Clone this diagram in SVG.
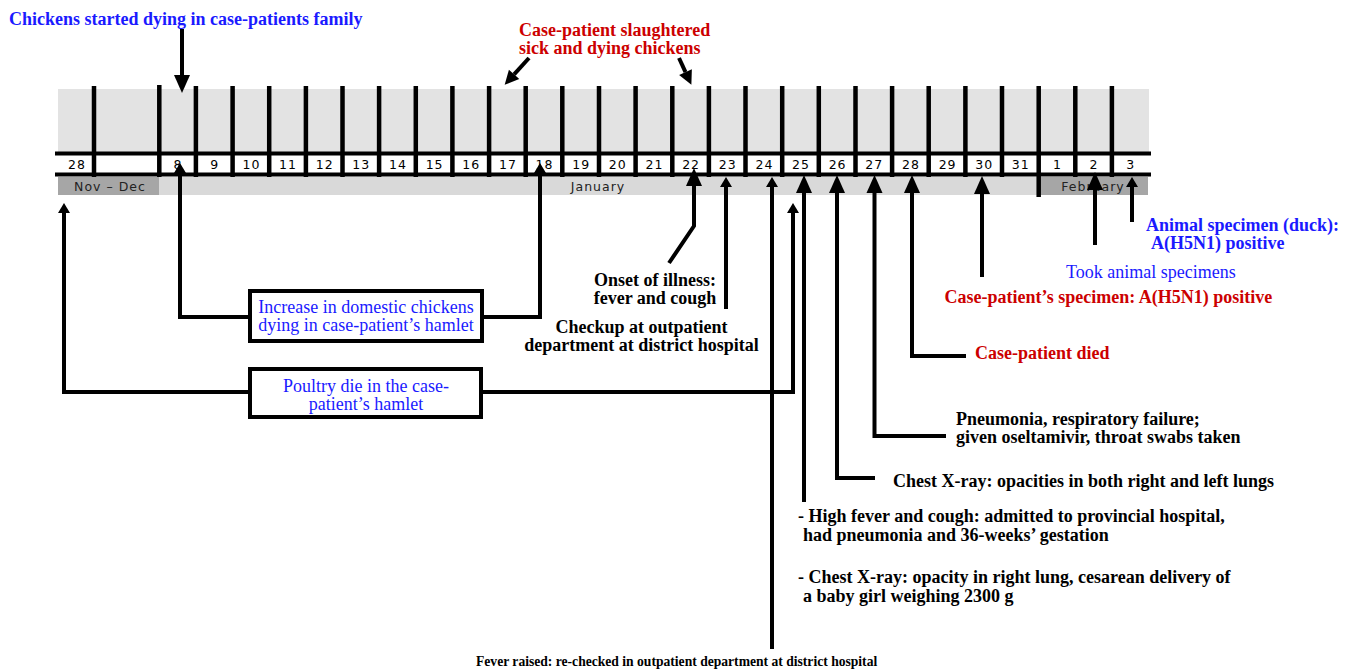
<svg xmlns="http://www.w3.org/2000/svg" width="1353" height="669" viewBox="0 0 1353 669">
<style>
.t{font-family:"Liberation Serif","Times New Roman",serif;font-size:18px}
.b{font-weight:bold}
.blue{fill:#1a1aff}
.red{fill:#cc0000}
.blk{fill:#000}
.d{font-family:"DejaVu Sans",Verdana,sans-serif;font-size:12.5px;letter-spacing:1px;text-anchor:middle;fill:#000}
.m{font-family:"DejaVu Sans",Verdana,sans-serif;font-size:12.5px;letter-spacing:1px;text-anchor:middle;fill:#222}
.c{fill:none;stroke:#000;stroke-width:4;stroke-linejoin:miter}
.box{fill:#fff;stroke:#000;stroke-width:4}
.mid{text-anchor:middle}
</style>
<defs>
<marker id="big" markerUnits="userSpaceOnUse" markerWidth="18" markerHeight="16" refX="0" refY="8" orient="auto" overflow="visible"><path d="M0,0 L18,8 L0,16 Z" fill="#000"/></marker>
<marker id="mid" markerUnits="userSpaceOnUse" markerWidth="14" markerHeight="14" refX="0" refY="7" orient="auto" overflow="visible"><path d="M0,0 L14,7 L0,14 Z" fill="#000"/></marker>
<marker id="sm" markerUnits="userSpaceOnUse" markerWidth="10" markerHeight="12" refX="0" refY="6" orient="auto" overflow="visible"><path d="M0,0 L10,6 L0,12 Z" fill="#000"/></marker>
</defs>

<g id="timeline">
<rect x="58" y="89" width="1091" height="63" fill="#e3e3e3"/>
<rect x="58" y="177" width="1090" height="18" fill="#d9d9d9"/>
<rect x="58" y="177" width="101" height="18" fill="#a6a6a6"/>
<rect x="1039" y="177" width="109" height="18" fill="#a6a6a6"/>
<path d="M55,153.5 H1151 M55,174.5 H1151" stroke="#000" stroke-width="4" fill="none"/>
<path stroke="#000" stroke-width="4.5" fill="none" d="M94,86 V177 M159.3,85 V177 M195.9,86 V177 M232.6,86 V177 M269.2,86 V177 M305.9,86 V177 M342.5,86 V177 M379.1,86 V177 M415.8,86 V177 M452.4,86 V177 M489.1,86 V177 M525.7,86 V177 M562.3,86 V177 M599,86 V177 M635.6,86 V177 M672.3,86 V177 M708.9,86 V177 M745.5,86 V177 M782.2,86 V177 M818.8,86 V177 M855.5,86 V177 M892.1,86 V177 M928.7,86 V177 M965.4,86 V177 M1002,86 V177 M1038.7,86 V197 M1075.3,86 V177 M1111.9,86 V177"/>
<g class="d">
<text x="77" y="169">28</text>
<text x="178" y="169">8</text>
<text x="214.8" y="169">9</text>
<text x="251.4" y="169">10</text>
<text x="288" y="169">11</text>
<text x="324.7" y="169">12</text>
<text x="361.3" y="169">13</text>
<text x="398" y="169">14</text>
<text x="434.6" y="169">15</text>
<text x="471.2" y="169">16</text>
<text x="507.9" y="169">17</text>
<text x="544.5" y="169">18</text>
<text x="581.2" y="169">19</text>
<text x="617.8" y="169">20</text>
<text x="654.4" y="169">21</text>
<text x="691.1" y="169">22</text>
<text x="727.7" y="169">23</text>
<text x="764.4" y="169">24</text>
<text x="801" y="169">25</text>
<text x="837.6" y="169">26</text>
<text x="874.3" y="169">27</text>
<text x="910.9" y="169">28</text>
<text x="947.6" y="169">29</text>
<text x="984.2" y="169">30</text>
<text x="1020.8" y="169">31</text>
<text x="1057.5" y="169">1</text>
<text x="1094.1" y="169">2</text>
<text x="1130.8" y="169">3</text>
</g>
<g class="m">
<text x="110" y="190.5">Nov – Dec</text>
<text x="598" y="190.5">January</text>
<text x="1093" y="190.5">February</text>
</g>
</g>

<g id="connectors">
<path class="c" d="M182,29 V75" marker-end="url(#big)"/>
<path class="c" d="M529,58 L514.1,74.4" marker-end="url(#mid)"/>
<path class="c" d="M679,58 L685.5,72.1" marker-end="url(#mid)"/>
<path class="c" d="M248,317 H180 V173" marker-end="url(#sm)"/>
<path class="c" d="M484,317 H540 V173" marker-end="url(#sm)"/>
<path class="c" d="M248,392 H64 V213" marker-end="url(#sm)"/>
<path class="c" d="M483,392 H793 V213" marker-end="url(#sm)"/>
<path class="c" d="M669,263 L694,226 V186" marker-end="url(#big)"/>
<path class="c" d="M726,309 V187" marker-end="url(#sm)"/>
<path class="c" d="M772,649 V187" marker-end="url(#sm)"/>
<path class="c" d="M804,502 V193" marker-end="url(#big)"/>
<path class="c" d="M875,478 H837 V193" marker-end="url(#big)"/>
<path class="c" d="M946,436 H874.5 V193" marker-end="url(#big)"/>
<path class="c" d="M966,356 H912 V193" marker-end="url(#big)"/>
<path class="c" d="M982,277 V194" marker-end="url(#big)"/>
<path class="c" d="M1095,245 V190" marker-end="url(#big)"/>
<path class="c" d="M1132,222 V187" marker-end="url(#sm)"/>
</g>

<g id="chickens-started"><text class="t b blue" x="9" y="25">Chickens started dying in case-patients family</text></g>
<g id="slaughtered"><text class="t b red" x="519" y="36">Case-patient slaughtered</text><text class="t b red" x="519" y="54">sick and dying chickens</text></g>
<g id="box-increase">
<rect class="box" x="250" y="291" width="232" height="50"/>
<text class="t blue mid" x="366" y="313">Increase in domestic chickens</text>
<text class="t blue mid" x="366" y="331">dying in case-patient’s hamlet</text>
</g>
<g id="box-poultry">
<rect class="box" x="250" y="369" width="231" height="48"/>
<text class="t blue mid" x="366" y="392">Poultry die in the case-</text>
<text class="t blue mid" x="366" y="410">patient’s hamlet</text>
</g>
<g id="onset"><text class="t b blk mid" x="655" y="286">Onset of illness:</text><text class="t b blk mid" x="655" y="304">fever and cough</text></g>
<g id="checkup"><text class="t b blk mid" x="641.5" y="333">Checkup at outpatient</text><text class="t b blk mid" x="641.5" y="351">department at district hospital</text></g>
<g id="fever-raised"><text class="t b blk" x="476" y="666" style="font-size:13.6px">Fever raised: re-checked in outpatient department at district hospital</text></g>
<g id="high-fever"><text class="t b blk" x="798" y="522">- High fever and cough: admitted to provincial hospital,</text><text class="t b blk" x="803" y="541">had pneumonia and 36-weeks’ gestation</text></g>
<g id="chest-xray-1"><text class="t b blk" x="798" y="583">- Chest X-ray: opacity in right lung, cesarean delivery of</text><text class="t b blk" x="803" y="602">a baby girl weighing 2300 g</text></g>
<g id="chest-xray-2"><text class="t b blk" x="893" y="487">Chest X-ray: opacities in both right and left lungs</text></g>
<g id="pneumonia"><text class="t b blk" x="956" y="425">Pneumonia, respiratory failure;</text><text class="t b blk" x="956" y="443">given oseltamivir, throat swabs taken</text></g>
<g id="died"><text class="t b red" x="975" y="359">Case-patient died</text></g>
<g id="specimen-positive"><text class="t b red" x="944.5" y="303">Case-patient’s specimen: A(H5N1) positive</text></g>
<g id="took-specimens"><text class="t blue" x="1066" y="278">Took animal specimens</text></g>
<g id="animal-positive"><text class="t b blue" x="1146" y="231">Animal specimen (duck):</text><text class="t b blue" x="1151" y="249">A(H5N1) positive</text></g>
</svg>
